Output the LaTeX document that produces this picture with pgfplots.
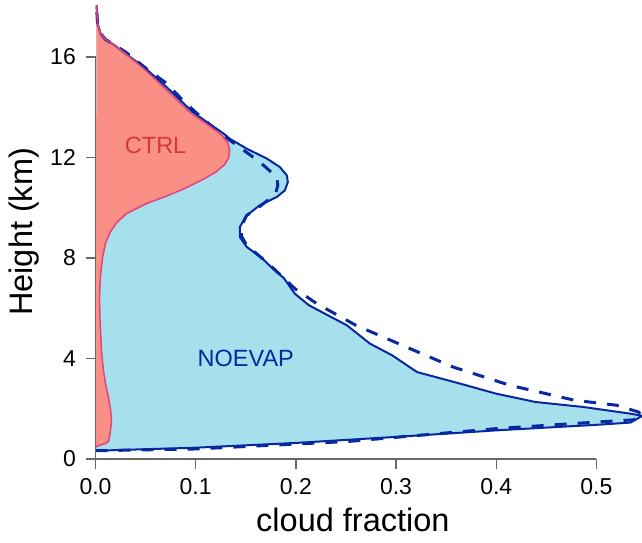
\documentclass[border=0pt]{standalone}
\usepackage{pgfplots}
\pgfplotsset{compat=1.18}
\usepackage{pgfplotstable}
\usepackage{fontspec}
\setmainfont{Liberation Sans}

\definecolor{ctrlfill}{RGB}{250,143,133}
\definecolor{ctrlline}{RGB}{232,66,122}
\definecolor{ctrltext}{RGB}{214,56,56}
\definecolor{noefill}{RGB}{166,224,236}
\definecolor{noeline}{RGB}{8,40,160}
\definecolor{spine}{RGB}{105,105,105}

% cloud fraction profiles: x = fraction, y = height (km)
\pgfplotstableread{
x y
0 0.45
0.001 0.50
0.010 0.62
0.013 0.70
0.0145 1.0
0.016 1.5
0.015 2.0
0.013 2.45
0.010 3.0
0.008 3.5
0.006 4.3
0.0045 5.5
0.004 6.5
0.005 7.3
0.007 8.0
0.010 8.6
0.015 9.05
0.021 9.4
0.031 9.77
0.051 10.17
0.070 10.45
0.088 10.75
0.106 11.1
0.120 11.42
0.129 11.72
0.133 12.0
0.134 12.3
0.132 12.6
0.126 12.9
0.114 13.25
0.094 13.81
0.068 14.8
0.048 15.54
0.028 16.2
0.018 16.5
0.010 16.7
0.005 16.95
0.002 17.35
0.001 18.06
}\ctrl

\pgfplotstableread{
x y
0 0.33
0.100 0.45
0.200 0.64
0.300 0.88
0.400 1.14
0.500 1.36
0.534 1.45
0.546 1.72
0.533 1.81
0.487 2.07
0.439 2.27
0.400 2.6
0.364 3.0
0.321 3.46
0.296 4.13
0.274 4.59
0.251 5.32
0.213 6.12
0.199 6.58
0.188 7.2
0.177 7.58
0.166 8.0
0.151 8.44
0.144 8.84
0.144 9.23
0.151 9.7
0.164 10.1
0.181 10.43
0.189 10.69
0.192 11.02
0.191 11.29
0.184 11.62
0.171 11.96
0.151 12.35
0.134 12.75
0.128 12.95
0.117 13.25
0.097 13.81
0.071 14.8
0.050 15.54
0.028 16.2
0.018 16.5
0.010 16.7
0.005 16.95
0.002 17.35
0.001 18.06
}\noevap

\pgfplotstableread{
x y
0 0.33
0.100 0.40
0.253 0.70
0.400 1.21
0.500 1.47
0.537 1.56
0.546 1.72
0.542 1.87
0.520 2.14
0.478 2.34
0.414 2.93
0.357 3.66
0.306 4.53
0.260 5.32
0.221 6.18
0.199 6.78
0.180 7.5
0.166 8.0
0.151 8.5
0.146 8.85
0.145 9.23
0.151 9.7
0.159 9.9
0.172 10.3
0.180 10.6
0.182 10.89
0.181 11.22
0.164 11.82
0.141 12.49
0.125 12.95
0.107 13.55
0.089 14.2
0.071 14.95
0.052 15.5
0.030 16.2
0.018 16.5
0.010 16.7
0.005 16.95
0.002 17.35
0.001 18.06
}\noevapdash

\begin{document}
\begin{tikzpicture}
\begin{axis}[
  at={(95.5pt,83pt)}, anchor=south west,
  scale only axis, width=546.5pt, height=459pt,
  xmin=0, xmax=0.5455, ymin=0, ymax=18.27,
  clip=false,
  axis x line*=bottom, axis y line*=left,
  axis line style={draw=none},
  xtick={0,0.1,0.2,0.3,0.4,0.5},
  xticklabels={0.0,0.1,0.2,0.3,0.4,0.5},
  ytick={0,4,8,12,16},
  yticklabels={0,4,8,12,16},
  tick align=outside, major tick length=9.5pt,
  tick style={spine, line width=1.4pt},
  ticklabel style={font=\fontsize{23}{27}\selectfont, inner sep=0pt},
  xticklabel style={anchor=north, yshift=-9.5pt},
  yticklabel style={anchor=east, xshift=-10pt},
  xlabel={cloud fraction},
  ylabel={Height (km)},
  label style={font=\fontsize{32.5}{39}\selectfont},
  xlabel style={at={(axis description cs:0.471,-0.1584)}, anchor=base},
  ylabel style={at={(axis description cs:-0.1144,0.495)}, anchor=base},
]
\addplot[fill=noefill, draw=none] table {\noevap};
\addplot[fill=ctrlfill, draw=none] table {\ctrl};
\addplot[noeline, line width=2pt, line join=round] table {\noevap};
\addplot[noeline, line width=3pt, dash pattern=on 12pt off 11pt] table {\noevapdash};
\addplot[ctrlline, line width=1.5pt, line join=round] table {\ctrl};
\draw[spine, line width=1.4pt] (axis cs:0,0) -- (axis cs:0.5,0);
\draw[spine, line width=1.4pt] (axis cs:0,0) -- (axis cs:0,16);
\node[text=ctrltext, font=\fontsize{23.5}{28}\selectfont] at (axis cs:0.060,12.49) {CTRL};
\node[text=noeline, font=\fontsize{23.5}{28}\selectfont] at (axis cs:0.150,4.01) {NOEVAP};
\end{axis}
\pgfresetboundingbox
\path (0,0) rectangle (642pt,542pt);
\end{tikzpicture}
\end{document}
